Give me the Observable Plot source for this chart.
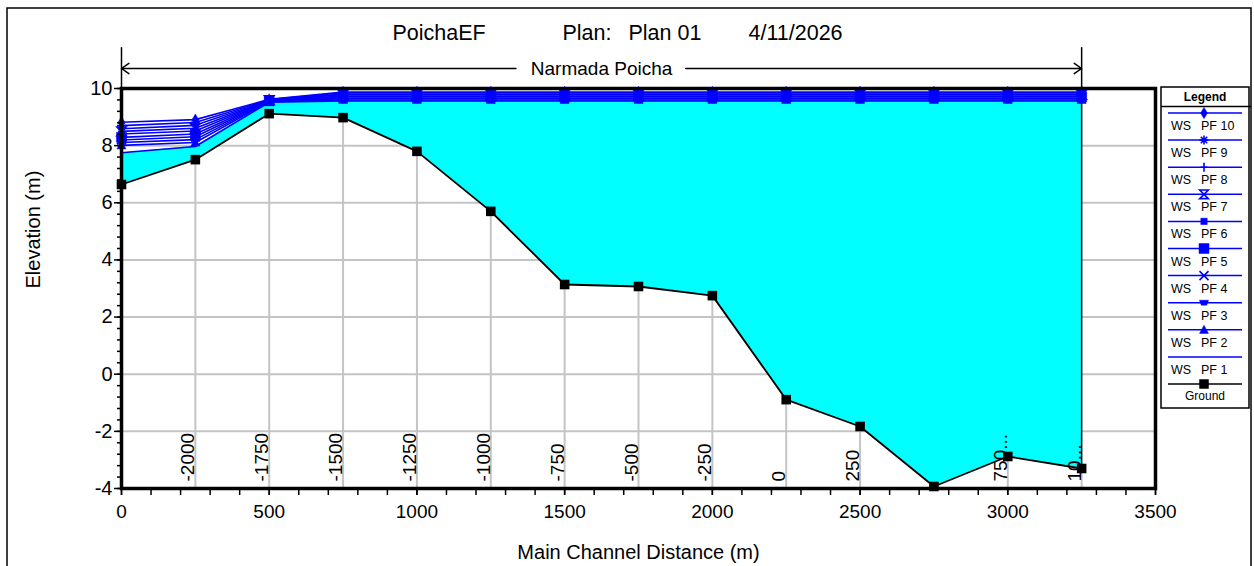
<!DOCTYPE html>
<html>
<head>
<meta charset="utf-8">
<script src="https://cdn.jsdelivr.net/npm/d3@7"></script>
<script src="https://cdn.jsdelivr.net/npm/@observablehq/plot@0.6"></script>
<style>
  body { margin: 0; background: #fff; }
  #chart { position: relative; width: 1254px; height: 566px; }
  svg { font-family: Arial, "Liberation Sans", sans-serif; }
</style>
</head>
<body>
<div id="chart"></div>
<script>
// River stations along the main channel (m) and the cross-section names printed at each one
const stations = [0, 250, 500, 750, 1000, 1250, 1500, 1750, 2000, 2250, 2500, 2750, 3000, 3250];
const stationLabels = ["", "-2000", "-1750", "-1500", "-1250", "-1000", "-750", "-500", "-250", "0", "250", "", "750...", "10..."];

// Channel invert (m)
const ground = [6.64, 7.51, 9.12, 8.98, 7.80, 5.70, 3.14, 3.07, 2.75, -0.89, -1.83, -3.93, -2.88, -3.30];

// Water surface elevations for each flow profile (m)
const wsPF1  = [7.75, 7.97, 9.52, 9.56, 9.56, 9.56, 9.56, 9.56, 9.56, 9.56, 9.56, 9.56, 9.56, 9.56];
const wsPF2  = [8.01, 8.11, 9.54, 9.60, 9.60, 9.60, 9.60, 9.60, 9.60, 9.60, 9.60, 9.60, 9.60, 9.60];
const wsPF3  = [8.11, 8.21, 9.55, 9.64, 9.64, 9.64, 9.64, 9.64, 9.64, 9.64, 9.64, 9.64, 9.64, 9.64];
const wsPF4  = [8.20, 8.31, 9.56, 9.67, 9.67, 9.67, 9.67, 9.67, 9.67, 9.67, 9.67, 9.67, 9.67, 9.67];
const wsPF5  = [8.29, 8.41, 9.57, 9.71, 9.71, 9.71, 9.71, 9.71, 9.71, 9.71, 9.71, 9.71, 9.71, 9.71];
const wsPF6  = [8.41, 8.51, 9.58, 9.74, 9.74, 9.74, 9.74, 9.74, 9.74, 9.74, 9.74, 9.74, 9.74, 9.74];
const wsPF7  = [8.50, 8.61, 9.59, 9.78, 9.78, 9.78, 9.78, 9.78, 9.78, 9.78, 9.78, 9.78, 9.78, 9.78];
const wsPF8  = [8.59, 8.71, 9.60, 9.81, 9.81, 9.81, 9.81, 9.81, 9.81, 9.81, 9.81, 9.81, 9.81, 9.81];
const wsPF9  = [8.70, 8.81, 9.61, 9.85, 9.85, 9.85, 9.85, 9.85, 9.85, 9.85, 9.85, 9.85, 9.85, 9.85];
const wsPF10 = [8.82, 8.91, 9.62, 9.88, 9.88, 9.88, 9.88, 9.88, 9.88, 9.88, 9.88, 9.88, 9.88, 9.88];
const profileNames = ["PF 1", "PF 2", "PF 3", "PF 4", "PF 5", "PF 6", "PF 7", "PF 8", "PF 9", "PF 10"];

// Axis ticks
const xMajorTicks = [0, 500, 1000, 1500, 2000, 2500, 3000, 3500];
const yMajorTicks = [-4, -2, 0, 2, 4, 6, 8, 10];
const yGridLines = [-2, 0, 2, 4, 6, 8];

const titleParts = ["PoichaEF", "Plan:", "Plan 01", "4/11/2026"];
const reachName = "Narmada Poicha";

// ---- marker shapes (custom d3 symbol types, sized by Plot's r) ----
const shape = fn => ({ draw(c, size) { fn(c, Math.sqrt(size / Math.PI)); } });
const shapes = {
  spade: shape((c, r) => { c.moveTo(0, -r * 1.25); c.lineTo(r * 0.75, 0); c.lineTo(0, r * 1.25); c.lineTo(-r * 0.75, 0); c.closePath(); }),
  star: shape((c, r) => { for (let a = 0; a < 4; a++) { const t = a * Math.PI / 4; c.moveTo(-r * Math.cos(t), -r * Math.sin(t)); c.lineTo(r * Math.cos(t), r * Math.sin(t)); } }),
  plus: shape((c, r) => { c.moveTo(-r * 0.8, 0); c.lineTo(r * 0.8, 0); c.moveTo(0, -r); c.lineTo(0, r); }),
  hourglass: shape((c, r) => { c.moveTo(-r, -r); c.lineTo(r, -r); c.lineTo(-r, r); c.lineTo(r, r); c.closePath(); }),
  square: shape((c, r) => { c.rect(-r, -r, 2 * r, 2 * r); }),
  times: shape((c, r) => { c.moveTo(-r, -r); c.lineTo(r, r); c.moveTo(r, -r); c.lineTo(-r, r); }),
  bar: shape((c, r) => { c.moveTo(-r, -r * 0.55); c.lineTo(r, -r * 0.55); c.lineTo(r * 0.6, r * 0.55); c.lineTo(-r * 0.6, r * 0.55); c.closePath(); }),
  triangle: shape((c, r) => { c.moveTo(0, -r); c.lineTo(r, r * 0.8); c.lineTo(-r, r * 0.8); c.closePath(); })
};
// index 0 = PF 1 (no marker) ... index 9 = PF 10
const markerStyle = [
  null,
  { symbol: shapes.triangle, r: 4.5, filled: true },
  { symbol: shapes.bar, r: 4.5, filled: true },
  { symbol: shapes.times, r: 4.5, filled: false },
  { symbol: shapes.square, r: 5, filled: true },
  { symbol: shapes.square, r: 3.2, filled: true },
  { symbol: shapes.hourglass, r: 4.3, filled: false },
  { symbol: shapes.plus, r: 4.5, filled: false },
  { symbol: shapes.star, r: 4.5, filled: false },
  { symbol: shapes.spade, r: 4.5, filled: true }
];

const BLUE = "#0000ff";
const CYAN = "#00ffff";
const GRID = "#c4c4c4";
const FONT = "Arial, 'Liberation Sans', sans-serif";

const wsSeries = [wsPF1, wsPF2, wsPF3, wsPF4, wsPF5, wsPF6, wsPF7, wsPF8, wsPF9, wsPF10];
const wsRows = wsSeries.flatMap((vals, k) =>
  vals.map((v, i) => ({ profile: profileNames[k], k, station: stations[i], elev: v })));
const groundRows = stations.map((s, i) => ({ station: s, elev: ground[i], label: stationLabels[i], pf1: wsPF1[i] }));
const last = groundRows[groundRows.length - 1];
const midReach = (stations[0] + last.station) / 2;

const markerMarks = markerStyle.flatMap((st, k) => st ? [
  Plot.dot(wsRows.filter(d => d.k === k), {
    x: "station", y: "elev", symbol: st.symbol, r: st.r,
    fill: st.filled ? BLUE : "none", stroke: BLUE, strokeWidth: st.filled ? 0.5 : 1.8
  })
] : []);

const plainNumber = d => String(d);
const titleText = (text, dx, extra = {}) =>
  Plot.text([text], { frameAnchor: "top-left", lineAnchor: "middle", dx, dy: -55, textAnchor: "start", fontSize: 21.5, fill: "black", ...extra });

const plot = Plot.plot({
  width: 1254,
  height: 566,
  marginLeft: 121,
  marginRight: 99,
  marginTop: 88,
  marginBottom: 78,
  style: { fontFamily: FONT, background: "transparent", overflow: "visible" },
  x: { domain: [0, 3500], label: null },
  y: { domain: [-4, 10], label: null },
  marks: [
    // grid
    Plot.ruleY(yGridLines, { stroke: GRID, strokeWidth: 2 }),
    Plot.ruleX(groundRows, { x: "station", y1: -4, y2: "elev", stroke: GRID, strokeWidth: 2 }),
    // wetted area up to the lowest profile
    Plot.areaY(groundRows, { x: "station", y1: "elev", y2: "pf1", fill: CYAN }),
    // downstream reach boundary
    Plot.ruleX([last], { x: "station", y1: "elev", y2: 10, stroke: "black", strokeWidth: 1.5 }),
    // water surfaces
    Plot.line(wsRows, { x: "station", y: "elev", z: "profile", stroke: BLUE, strokeWidth: 1.6 }),
    ...markerMarks,
    // ground
    Plot.line(groundRows, { x: "station", y: "elev", stroke: "black", strokeWidth: 1.8 }),
    Plot.dot(groundRows, { x: "station", y: "elev", symbol: "square", r: 5.4, fill: "black" }),
    // cross-section names
    Plot.text(groundRows.filter(d => d.label), {
      x: "station", y: -4, text: "label", rotate: -90, textAnchor: "start", lineAnchor: "bottom",
      dy: -7, dx: -1, fontSize: 19, fill: "black"
    }),
    // axes
    Plot.axisX(d3.range(0, 3501, 100), { tickSize: 7, tickFormat: () => "", strokeWidth: 1.5 }),
    Plot.axisX(xMajorTicks, { tickSize: 7, tickPadding: 9, fontSize: 19, strokeWidth: 1.5, label: null, tickFormat: plainNumber }),
    Plot.axisY(d3.range(-4, 10.01, 0.4).map(v => +v.toFixed(1)), { tickSize: 4, tickFormat: () => "", strokeWidth: 1.5 }),
    Plot.axisY(yMajorTicks, { tickSize: 7, tickPadding: 2, fontSize: 20, strokeWidth: 1.5, label: null, tickFormat: plainNumber }),
    Plot.frame({ stroke: "black", strokeWidth: 3.5 }),
    // axis titles
    Plot.text(["Main Channel Distance (m)"], { frameAnchor: "bottom", lineAnchor: "middle", dy: 64, fontSize: 20, fill: "black" }),
    Plot.text(["Elevation (m)"], { frameAnchor: "left", lineAnchor: "middle", dx: -88, rotate: -90, fontSize: 20, fill: "black" }),
    // title line
    titleText(titleParts[0], 271),
    titleText(titleParts[1], 441, { letterSpacing: 0.8 }),
    titleText(titleParts[2], 507, { letterSpacing: 1.2 }),
    titleText(titleParts[3], 627, { letterSpacing: 1.2 }),
    // reach bracket
    Plot.ruleX([stations[0], last.station], { y1: 10, y2: 11.43, stroke: "black", strokeWidth: 1.5 }),
    Plot.arrow([{ a: midReach - 290, b: stations[0] }, { a: midReach + 285, b: last.station }], {
      x1: "a", x2: "b", y1: 10.7, y2: 10.7, stroke: "black", strokeWidth: 1.5, headLength: 9, headAngle: 70
    }),
    Plot.text([reachName], { x: midReach, y: 10.7, fontSize: 19, fill: "black" })
  ]
});

const holder = document.getElementById("chart");
holder.appendChild(plot);

// ---- outer border and legend panel ----
const svg = d3.select(plot);
svg.append("rect").attr("x", 7).attr("y", 8).attr("width", 1244).attr("height", 600)
  .attr("fill", "none").attr("stroke", "black").attr("stroke-width", 1.5);

const lg = svg.append("g").attr("font-family", FONT).attr("text-anchor", "start");
lg.append("rect").attr("x", 1161).attr("y", 87).attr("width", 88).attr("height", 321)
  .attr("fill", "white").attr("stroke", "black").attr("stroke-width", 1.5);
lg.append("text").attr("x", 1205).attr("y", 101).attr("text-anchor", "middle")
  .attr("font-size", 12).attr("font-weight", "bold").text("Legend");
lg.append("line").attr("x1", 1161).attr("x2", 1251).attr("y1", 106.5).attr("y2", 106.5)
  .attr("stroke", "black").attr("stroke-width", 1.5);

for (let i = 0; i < 10; i++) {
  const k = 9 - i;
  const ly = 113 + i * 27.1;
  lg.append("line").attr("x1", 1168).attr("x2", 1242).attr("y1", ly).attr("y2", ly)
    .attr("stroke", BLUE).attr("stroke-width", 1.5);
  const st = markerStyle[k];
  if (st) {
    lg.append("path").attr("transform", `translate(1204,${ly})`)
      .attr("d", d3.symbol(st.symbol, st.r * st.r * Math.PI)())
      .attr("fill", st.filled ? BLUE : "none").attr("stroke", BLUE)
      .attr("stroke-width", st.filled ? 0.5 : 1.6);
  }
  lg.append("text").attr("x", 1171).attr("y", ly + 17).attr("font-size", 12.5).attr("text-anchor", "start")
    .text("WS");
  lg.append("text").attr("x", 1201).attr("y", ly + 17).attr("font-size", 12.5).attr("text-anchor", "start")
    .text(profileNames[k]);
}
const gy = 113 + 10 * 27.1;
lg.append("line").attr("x1", 1168).attr("x2", 1242).attr("y1", gy).attr("y2", gy)
  .attr("stroke", "black").attr("stroke-width", 1.5);
lg.append("path").attr("transform", `translate(1204,${gy})`)
  .attr("d", d3.symbol(d3.symbolSquare, 90)()).attr("fill", "black");
lg.append("text").attr("x", 1205).attr("y", gy + 16).attr("text-anchor", "middle")
  .attr("font-size", 12).text("Ground");
</script>
</body>
</html>
